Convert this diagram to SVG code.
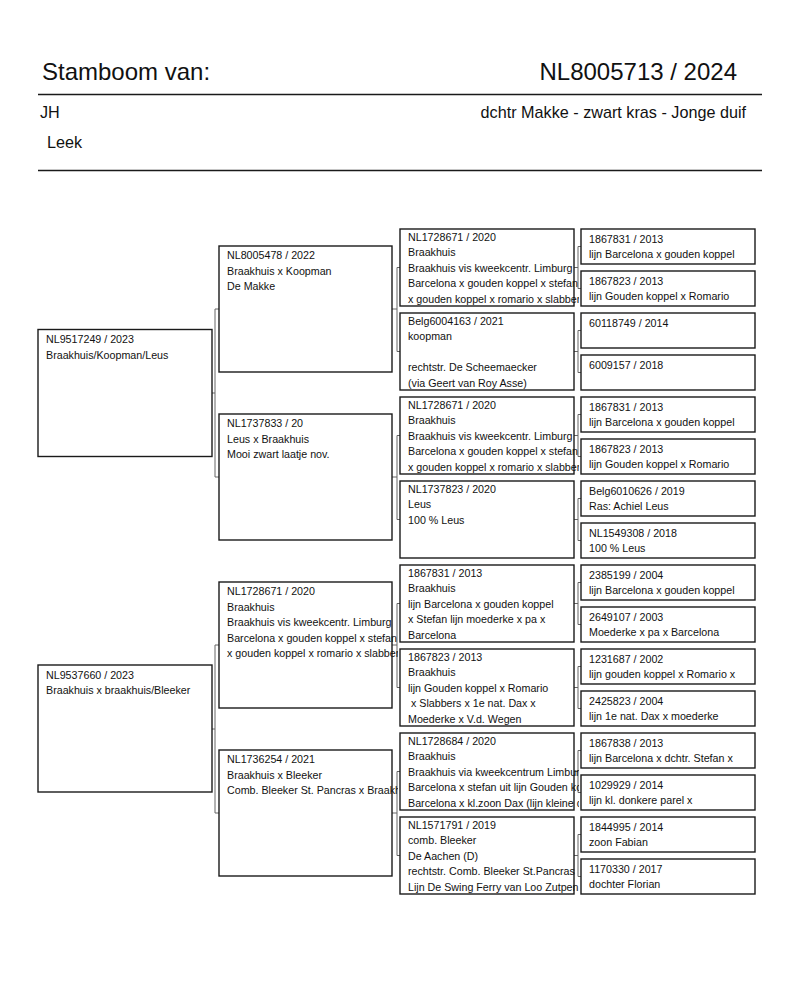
<svg xmlns="http://www.w3.org/2000/svg" width="800" height="997" viewBox="0 0 800 997">
<style>
.bg{fill:#fff}
.box{fill:#fff;stroke:#1a1a1a;stroke-width:1.4}
.rule{stroke:#1a1a1a;stroke-width:1.5}
.con{fill:none;stroke:#666;stroke-width:1}
text{font-family:"Liberation Sans",Arial,sans-serif;fill:#111}
.t{font-size:10.7px}
.h1{font-size:24px}
.h2{font-size:16.2px}
</style>
<defs>
<clipPath id="c2"><rect x="0" y="0" width="398" height="997"/></clipPath>
<clipPath id="c3"><rect x="0" y="0" width="579" height="997"/></clipPath>
</defs>
<rect class="bg" x="0" y="0" width="800" height="997"/>
<g id="header">
<text class="h1" x="42" y="80">Stamboom van:</text>
<text class="h1" x="737" y="80" text-anchor="end">NL8005713 / 2024</text>
<line class="rule" x1="38" y1="94.5" x2="762" y2="94.5"/>
<text class="h2" x="40" y="118">JH</text>
<text class="h2" x="746" y="118" text-anchor="end">dchtr Makke - zwart kras - Jonge duif</text>
<text class="h2" x="47" y="148">Leek</text>
<line class="rule" x1="38" y1="170.5" x2="762" y2="170.5"/>
</g>
<g id="connectors" class="con">
<path d="M212 393H215M219 309H215V477H219"/>
<path d="M212 729H215M219 645H215V813H219"/>
<path d="M392 309H397M400 267.5H397V351.5H400"/>
<path d="M392 477H397M400 435.5H397V519.5H400"/>
<path d="M392 645H397M400 603.5H397V687.5H400"/>
<path d="M392 813H397M400 771.5H397V855.5H400"/>
<path d="M574 267.5H578M581 246.5H578V288.5H581"/>
<path d="M574 351.5H578M581 330.5H578V372.5H581"/>
<path d="M574 435.5H578M581 414.5H578V456.5H581"/>
<path d="M574 519.5H578M581 498.5H578V540.5H581"/>
<path d="M574 603.5H578M581 582.5H578V624.5H581"/>
<path d="M574 687.5H578M581 666.5H578V708.5H581"/>
<path d="M574 771.5H578M581 750.5H578V792.5H581"/>
<path d="M574 855.5H578M581 834.5H578V876.5H581"/>
</g>
<g id="g1a"><rect class="box" x="38" y="329.5" width="174" height="127"/><text class="t" x="46" y="343">NL9517249 / 2023</text><text class="t" x="46" y="358.5">Braakhuis/Koopman/Leus</text></g>
<g id="g1b"><rect class="box" x="38" y="665" width="174" height="127"/><text class="t" x="46" y="678.5">NL9537660 / 2023</text><text class="t" x="46" y="694">Braakhuis x braakhuis/Bleeker</text></g>

<g id="g2a" clip-path="url(#c2)"><rect class="box" x="219" y="246" width="173" height="126"/><text class="t" x="227" y="259">NL8005478 / 2022</text><text class="t" x="227" y="274.5">Braakhuis x Koopman</text><text class="t" x="227" y="290">De Makke</text></g>
<g id="g2b" clip-path="url(#c2)"><rect class="box" x="219" y="414" width="173" height="126"/><text class="t" x="227" y="427">NL1737833 / 20</text><text class="t" x="227" y="442.5">Leus x Braakhuis</text><text class="t" x="227" y="458">Mooi zwart laatje nov.</text></g>
<g id="g2c" clip-path="url(#c2)"><rect class="box" x="219" y="582" width="173" height="126"/><text class="t" x="227" y="595">NL1728671 / 2020</text><text class="t" x="227" y="610.5">Braakhuis</text><text class="t" x="227" y="626">Braakhuis vis kweekcentr. Limburg</text><text class="t" x="227" y="641.5">Barcelona x gouden koppel x stefan</text><text class="t" x="227" y="657">x gouden koppel x romario x slabber</text></g>
<g id="g2d" clip-path="url(#c2)"><rect class="box" x="219" y="750" width="173" height="126"/><text class="t" x="227" y="763">NL1736254 / 2021</text><text class="t" x="227" y="778.5">Braakhuis x Bleeker</text><text class="t" x="227" y="794">Comb. Bleeker St. Pancras x Braakh</text></g>

<g id="g3a" clip-path="url(#c3)"><rect class="box" x="400" y="229" width="174" height="77"/><text class="t" x="408" y="240.5">NL1728671 / 2020</text><text class="t" x="408" y="256">Braakhuis</text><text class="t" x="408" y="271.5">Braakhuis vis kweekcentr. Limburg</text><text class="t" x="408" y="287">Barcelona x gouden koppel x stefan</text><text class="t" x="408" y="302.5">x gouden koppel x romario x slabber</text></g>
<g id="g3b" clip-path="url(#c3)"><rect class="box" x="400" y="313" width="174" height="77"/><text class="t" x="408" y="324.5">Belg6004163 / 2021</text><text class="t" x="408" y="340">koopman</text><text class="t" x="408" y="371">rechtstr. De Scheemaecker</text><text class="t" x="408" y="386.5">(via Geert van Roy Asse)</text></g>
<g id="g3c" clip-path="url(#c3)"><rect class="box" x="400" y="397" width="174" height="77"/><text class="t" x="408" y="408.5">NL1728671 / 2020</text><text class="t" x="408" y="424">Braakhuis</text><text class="t" x="408" y="439.5">Braakhuis vis kweekcentr. Limburg</text><text class="t" x="408" y="455">Barcelona x gouden koppel x stefan</text><text class="t" x="408" y="470.5">x gouden koppel x romario x slabber</text></g>
<g id="g3d" clip-path="url(#c3)"><rect class="box" x="400" y="481" width="174" height="77"/><text class="t" x="408" y="492.5">NL1737823 / 2020</text><text class="t" x="408" y="508">Leus</text><text class="t" x="408" y="523.5">100 % Leus</text></g>
<g id="g3e" clip-path="url(#c3)"><rect class="box" x="400" y="565" width="174" height="77"/><text class="t" x="408" y="576.5">1867831 / 2013</text><text class="t" x="408" y="592">Braakhuis</text><text class="t" x="408" y="607.5">lijn Barcelona x gouden koppel</text><text class="t" x="408" y="623">x Stefan lijn moederke x pa x</text><text class="t" x="408" y="638.5">Barcelona</text></g>
<g id="g3f" clip-path="url(#c3)"><rect class="box" x="400" y="649" width="174" height="77"/><text class="t" x="408" y="660.5">1867823 / 2013</text><text class="t" x="408" y="676">Braakhuis</text><text class="t" x="408" y="691.5">lijn Gouden koppel x Romario</text><text class="t" x="408" y="707" xml:space="preserve"> x Slabbers x 1e nat. Dax x</text><text class="t" x="408" y="722.5">Moederke x V.d. Wegen</text></g>
<g id="g3g" clip-path="url(#c3)"><rect class="box" x="400" y="733" width="174" height="77"/><text class="t" x="408" y="744.5">NL1728684 / 2020</text><text class="t" x="408" y="760">Braakhuis</text><text class="t" x="408" y="775.5">Braakhuis via kweekcentrum Limburg</text><text class="t" x="408" y="791">Barcelona x stefan uit lijn Gouden kop</text><text class="t" x="408" y="806.5">Barcelona x kl.zoon Dax (lijn kleine d</text></g>
<g id="g3h" clip-path="url(#c3)"><rect class="box" x="400" y="817" width="174" height="77"/><text class="t" x="408" y="828.5">NL1571791 / 2019</text><text class="t" x="408" y="844">comb. Bleeker</text><text class="t" x="408" y="859.5">De Aachen (D)</text><text class="t" x="408" y="875">rechtstr. Comb. Bleeker St.Pancras</text><text class="t" x="408" y="890.5">Lijn De Swing Ferry van Loo Zutpen</text></g>

<g id="g4a"><rect class="box" x="581" y="229" width="174" height="35"/><text class="t" x="589" y="242.5">1867831 / 2013</text><text class="t" x="589" y="258">lijn Barcelona x gouden koppel</text></g>
<g id="g4b"><rect class="box" x="581" y="271" width="174" height="35"/><text class="t" x="589" y="284.5">1867823 / 2013</text><text class="t" x="589" y="300">lijn Gouden koppel x Romario</text></g>
<g id="g4c"><rect class="box" x="581" y="313" width="174" height="35"/><text class="t" x="589" y="326.5">60118749 / 2014</text></g>
<g id="g4d"><rect class="box" x="581" y="355" width="174" height="35"/><text class="t" x="589" y="368.5">6009157 / 2018</text></g>
<g id="g4e"><rect class="box" x="581" y="397" width="174" height="35"/><text class="t" x="589" y="410.5">1867831 / 2013</text><text class="t" x="589" y="426">lijn Barcelona x gouden koppel</text></g>
<g id="g4f"><rect class="box" x="581" y="439" width="174" height="35"/><text class="t" x="589" y="452.5">1867823 / 2013</text><text class="t" x="589" y="468">lijn Gouden koppel x Romario</text></g>
<g id="g4g"><rect class="box" x="581" y="481" width="174" height="35"/><text class="t" x="589" y="494.5">Belg6010626 / 2019</text><text class="t" x="589" y="510">Ras: Achiel Leus</text></g>
<g id="g4h"><rect class="box" x="581" y="523" width="174" height="35"/><text class="t" x="589" y="536.5">NL1549308 / 2018</text><text class="t" x="589" y="552">100 % Leus</text></g>
<g id="g4i"><rect class="box" x="581" y="565" width="174" height="35"/><text class="t" x="589" y="578.5">2385199 / 2004</text><text class="t" x="589" y="594">lijn Barcelona x gouden koppel</text></g>
<g id="g4j"><rect class="box" x="581" y="607" width="174" height="35"/><text class="t" x="589" y="620.5">2649107 / 2003</text><text class="t" x="589" y="636">Moederke x pa x Barcelona</text></g>
<g id="g4k"><rect class="box" x="581" y="649" width="174" height="35"/><text class="t" x="589" y="662.5">1231687 / 2002</text><text class="t" x="589" y="678">lijn gouden koppel x Romario x</text></g>
<g id="g4l"><rect class="box" x="581" y="691" width="174" height="35"/><text class="t" x="589" y="704.5">2425823 / 2004</text><text class="t" x="589" y="720">lijn 1e nat. Dax x moederke</text></g>
<g id="g4m"><rect class="box" x="581" y="733" width="174" height="35"/><text class="t" x="589" y="746.5">1867838 / 2013</text><text class="t" x="589" y="762">lijn Barcelona x dchtr. Stefan x</text></g>
<g id="g4n"><rect class="box" x="581" y="775" width="174" height="35"/><text class="t" x="589" y="788.5">1029929 / 2014</text><text class="t" x="589" y="804">lijn kl. donkere parel x</text></g>
<g id="g4o"><rect class="box" x="581" y="817" width="174" height="35"/><text class="t" x="589" y="830.5">1844995 / 2014</text><text class="t" x="589" y="846">zoon Fabian</text></g>
<g id="g4p"><rect class="box" x="581" y="859" width="174" height="35"/><text class="t" x="589" y="872.5">1170330 / 2017</text><text class="t" x="589" y="888">dochter Florian</text></g>
</svg>
